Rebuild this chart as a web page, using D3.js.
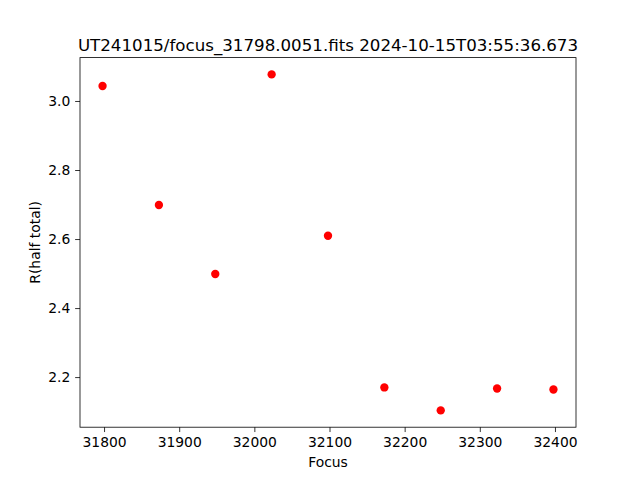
<!DOCTYPE html>
<html><head><meta charset="utf-8">
<script src="https://cdn.jsdelivr.net/npm/d3@7"></script>
<style>body{margin:0;background:#fff}svg{display:block}text{font-family:"DejaVu Sans",sans-serif;fill:#000}</style>
</head><body>
<script>
const focusValues = [31798, 31873, 31948, 32023, 32098, 32173, 32248, 32323, 32398];
const rHalfTotal = [3.0435, 2.6986, 2.4986, 3.077, 2.6096, 2.170, 2.1035, 2.167, 2.164];
const xTicks = [31800, 31900, 32000, 32100, 32200, 32300, 32400];
const yTicks = [2.2, 2.4, 2.6, 2.8, 3.0];
const titleText = "UT241015/focus_31798.0051.fits 2024-10-15T03:55:36.673";
const xLabel = "Focus";
const yLabel = "R(half total)";

const W = 640, H = 480;
const m = {left: 80, right: 576, top: 57.6, bottom: 427.2};
const svg = d3.select("body").append("svg").attr("width", W).attr("height", H);

const xmin = d3.min(focusValues), xmax = d3.max(focusValues);
const ymin = d3.min(rHalfTotal), ymax = d3.max(rHalfTotal);
const xs = d3.scaleLinear().domain([xmin - 0.05*(xmax-xmin), xmax + 0.05*(xmax-xmin)]).range([m.left, m.right]);
const ys = d3.scaleLinear().domain([ymin - 0.05*(ymax-ymin), ymax + 0.05*(ymax-ymin)]).range([m.bottom, m.top]);

const fs = 13.89;
const xAxis = d3.axisBottom(xs).tickValues(xTicks).tickFormat(d3.format("d")).tickSize(4.86).tickPadding(4.86);
const yAxis = d3.axisLeft(ys).tickValues(yTicks).tickFormat(d3.format(".1f")).tickSize(4.86).tickPadding(4.86);

const gx = svg.append("g").attr("transform", `translate(0,${m.bottom})`).call(xAxis);
const gy = svg.append("g").attr("transform", `translate(${m.left},0)`).call(yAxis);
[gx, gy].forEach(g => {
  g.select(".domain").remove();
  g.selectAll(".tick line").attr("stroke", "#000").attr("stroke-width", 0.8);
  g.selectAll(".tick text").attr("font-size", fs).attr("font-family", "DejaVu Sans").attr("fill", "#000");
});
gx.selectAll(".tick text").attr("dy", "0.76em");

svg.append("g").selectAll("circle").data(focusValues).join("circle")
  .attr("cx", (d, i) => xs(d)).attr("cy", (d, i) => ys(rHalfTotal[i]))
  .attr("r", 4.17).attr("fill", "#ff0000");

svg.append("rect").attr("x", m.left).attr("y", m.top)
  .attr("width", m.right - m.left).attr("height", m.bottom - m.top)
  .attr("fill", "none").attr("stroke", "#000").attr("stroke-width", 0.8);

svg.append("text").attr("x", (m.left + m.right)/2).attr("y", 50.5)
  .attr("text-anchor", "middle").attr("font-size", 16.67).text(titleText);
svg.append("text").attr("x", (m.left + m.right)/2).attr("y", 467)
  .attr("text-anchor", "middle").attr("font-size", fs).text(xLabel);
svg.append("text").attr("transform", `translate(39.5,${(m.top + m.bottom)/2}) rotate(-90)`)
  .attr("text-anchor", "middle").attr("font-size", fs).text(yLabel);
</script>
</body></html>
